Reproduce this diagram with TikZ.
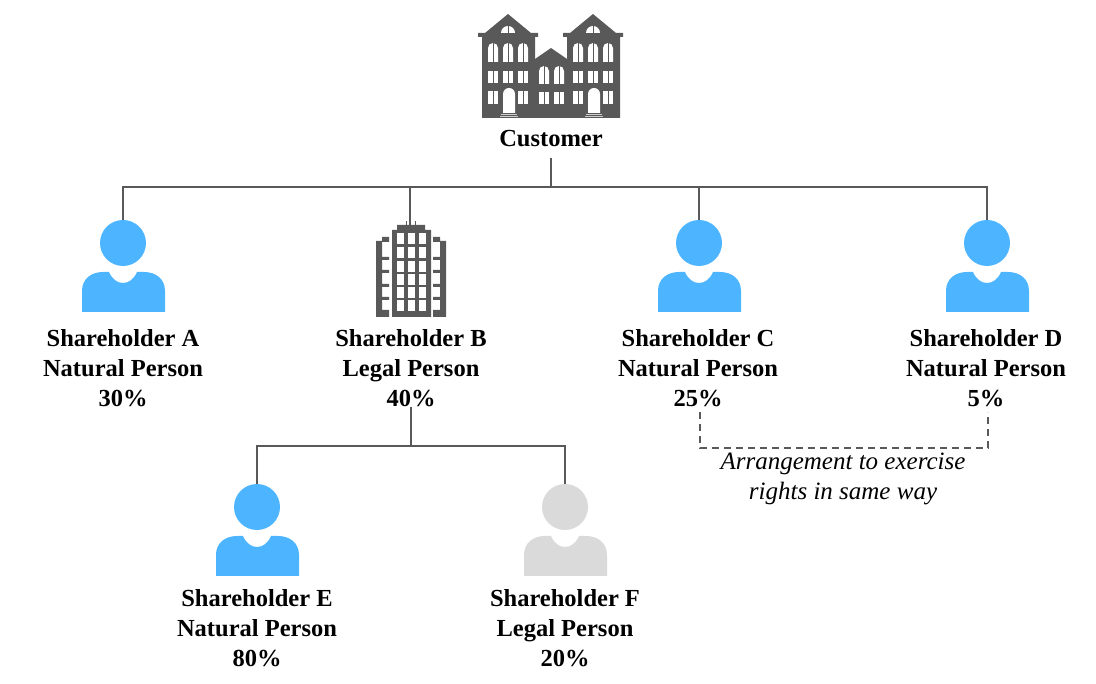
\documentclass[tikz,border=0pt]{standalone}
\usepackage{fontspec}
\setmainfont{Liberation Serif}
\definecolor{iconblue}{HTML}{4DB5FF}
\definecolor{icongrey}{HTML}{DADADA}
\definecolor{darkgrey}{HTML}{595959}
\tikzset{
	link/.style={draw=darkgrey, line width=2.4pt},
	dashlink/.style={draw=darkgrey, line width=2.2pt, dash pattern=on 7pt off 5pt},
	holdertext/.style={font=\fontsize{24.5}{30}\selectfont\bfseries, align=center, inner sep=0pt},
	notetext/.style={font=\fontsize{25}{30}\selectfont\itshape, align=center, inner sep=0pt},
	head/.style={circle, minimum size=46pt, inner sep=0pt}
}
\def\personicon(#1,#2)[#3]#4{
	\begin{scope}[shift={(#1, #2)}]
		\node[head, fill=#3] (#4) at (0, 0) {};
		\fill[#3] (-41, 69) -- (-41, 48) .. controls (-41, 36) and (-32, 29) .. (-20, 29) -- (-14, 29) .. controls (-11, 36) and (-6, 40) .. (0, 40) .. controls (6, 40) and (11, 36) .. (14, 29) -- (21, 29) .. controls (33, 29) and (42, 36) .. (42, 48) -- (42, 69) -- cycle;
	\end{scope}
}
\def\archwin(#1,#2,#3){
	\fill[white] (#1, #3) -- ({#1}, {#2+5}) arc (180:360:5) -- ({#1+10}, #3) -- cycle;
	\draw[darkgrey, line width=0.8pt] ({#1+5}, #2) -- ({#1+5}, #3);
}
\def\paneswin(#1,#2,#3){
	\fill[white] (#1, #2) rectangle ({#1+10}, #3);
	\draw[darkgrey, line width=0.8pt] ({#1+5}, #2) -- ({#1+5}, #3);
}

\begin{document}
\begin{tikzpicture}[x=1pt, y=-1pt]
	\useasboundingbox (0, 0) rectangle (1096, 684);
	%%%%% CUSTOMER ICON %%%%%
	\fill[darkgrey] (535, 118) -- (535, 59) -- (551, 48) -- (567, 59) -- (567, 118) -- cycle;
	\foreach \dx in {0, 85} {
		\begin{scope}[xshift=\dx pt]
			\fill[darkgrey] (508, 14) -- (531, 33) -- (538, 33) -- (538, 37) -- (535, 37) -- (535, 118) -- (482, 118) -- (482, 37) -- (478, 37) -- (478, 33) -- (485, 33) -- cycle;
			\foreach \wx in {488, 503, 518} {
				\archwin(\wx, 43, 62)
				\paneswin(\wx, 71, 83)
			}
			\paneswin(488, 91, 104)
			\paneswin(518, 91, 104)
			\fill[white] (503, 113) -- (503, 94) arc (180:360:6) -- (515, 113) -- cycle;
			\fill[white] (515, 33) arc (0:-180:7) -- cycle;
			\draw[darkgrey, line width=0.8pt] (508, 25) -- (508, 33);
			\draw[white!70!darkgrey, line width=1pt] (501, 114.5) -- (517, 114.5);
			\draw[white!70!darkgrey, line width=1pt] (500, 117) -- (518, 117);
		\end{scope}
	}
	\archwin(539, 66, 84)
	\archwin(554, 66, 84)
	\paneswin(539, 92, 104)
	\paneswin(554, 92, 104)
	\node[holdertext, inner ysep=11pt] (customer) at (551, 139) {Customer};

	%%%%% SHAREHOLDER B ICON %%%%%
	\node[inner sep=0pt, minimum width=40pt, minimum height=92pt] (towerB) at (410, 271) {};
	\fill[darkgrey] (392, 317) -- (392, 230) -- (397, 230) -- (397, 225) -- (425, 225) -- (425, 230) -- (431, 230) -- (431, 317) -- cycle;
	\draw[darkgrey, line width=0.8pt] (406, 225) -- (406, 221) (415, 225) -- (415, 221);
	\foreach \wy/\wh in {233.5/11, 247.5/11, 261/11, 274/11, 287/11, 300/11.5} {
		\foreach \wx in {397, 407.5, 418.5} {
			\fill[white] (\wx, \wy) rectangle ++(7, \wh);
		}
	}
	\foreach \sx/\ex/\ox in {376/382/389, 446/440/433} {
		\fill[darkgrey] (\sx, 317) -- (\sx, 241) -- (\ex, 241) -- (\ex, 237) -- (\ox, 237) -- (\ox, 242) -- (\ex, 242) -- (\ex, 257) -- (\ox, 257) -- (\ox, 260) -- (\ex, 260) -- (\ex, 270) -- (\ox, 270) -- (\ox, 273) -- (\ex, 273) -- (\ex, 284) -- (\ox, 284) -- (\ox, 287) -- (\ex, 287) -- (\ex, 297) -- (\ox, 297) -- (\ox, 300) -- (\ex, 300) -- (\ex, 310) -- (\ox, 310) -- (\ox, 317) -- cycle;
	}

	%%%%% PERSONS %%%%%
	\personicon(123, 243)[iconblue]{headA}
	\personicon(699, 243)[iconblue]{headC}
	\personicon(987, 243)[iconblue]{headD}
	\personicon(257, 507)[iconblue]{headE}
	\personicon(565, 507)[icongrey]{headF}

	%%%%% LABELS %%%%%
	\node[holdertext] (textA) at (123, 368) {Shareholder A\\Natural Person\\30\%};
	\node[holdertext] (textB) at (411, 368) {Shareholder B\\Legal Person\\40\%};
	\node[holdertext] (textC) at (698, 368) {Shareholder C\\Natural Person\\25\%};
	\node[holdertext] (textD) at (986, 368) {Shareholder D\\Natural Person\\5\%};
	\node[holdertext] (textE) at (257, 628) {Shareholder E\\Natural Person\\80\%};
	\node[holdertext] (textF) at (565, 628) {Shareholder F\\Legal Person\\20\%};
	\node[notetext] (arrangement) at (843, 479) {Arrangement to exercise\\rights in same way};

	%%%%% CONNECTORS %%%%%
	\coordinate (busTop) at (551, 187);
	\coordinate (busB) at (411, 446);
	\coordinate (dashC) at (700, 412);
	\coordinate (dashD) at (988, 412);
	\draw[link] (customer.south) -- (busTop);
	\draw[link] (busTop) -| (headA.north);
	\draw[link] (busTop) -| (towerB.north);
	\draw[link] (busTop) -| (headC.north);
	\draw[link] (busTop) -| (headD.north);
	\draw[link] (textB.south) -- (busB);
	\draw[link] (busB) -| (headE.north);
	\draw[link] (busB) -| (headF.north);
	\draw[dashlink] (dashC) -- ++(0, 36) -| (dashD);
\end{tikzpicture}
\end{document}
